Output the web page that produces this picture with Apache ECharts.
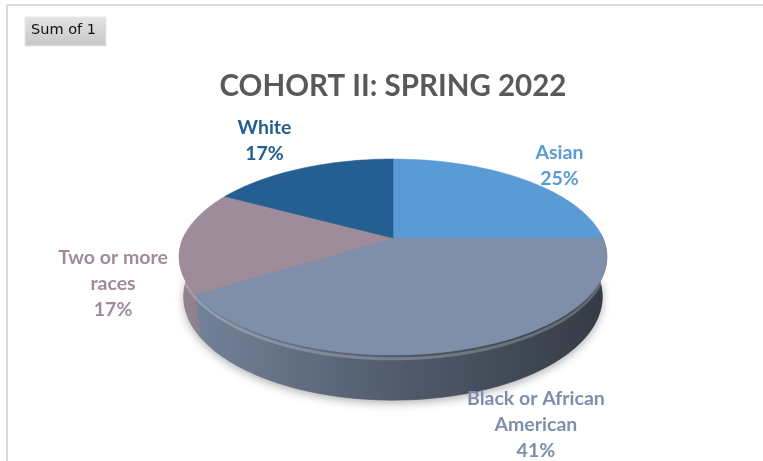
<!DOCTYPE html>
<html>
<head>
<meta charset="utf-8">
<script src="https://cdn.jsdelivr.net/npm/echarts@6/dist/echarts.min.js"></script>
<style>
  html, body { margin: 0; padding: 0; background: #ffffff; }
  #chart { width: 763px; height: 461px; }
</style>
</head>
<body>
<div id="chart"></div>
<script>
// Cohort II ethnicity breakdown (percent of cohort)
const categories = ['Asian', 'Black or African American', 'Two or more races', 'White'];
const labelNames = ['Asian', 'Black or African\nAmerican', 'Two or more\nraces', 'White'];
const shares = [25, 41, 17, 17];

// Slice palette
const sliceColors = ['#5B9BD5', '#7F8FA9', '#9E8C9A', '#255E91'];
const labelColors = ['#5B9BD5', '#7F8FA9', '#9E8C9A', '#255E91'];

// Perspective camera for the tilted 3-D disc
const CX = 393, CY = 238;          // projected disc centre
const TILT = 26.7 * Math.PI / 180; // viewing elevation
const SIN = Math.sin(TILT), COS = Math.cos(TILT);
const DIST = 4.61;                 // camera distance in disc radii
const FOCAL = 967;                 // focal length in px
const THICK = 0.2125;              // disc thickness in radii

// Label nudges away from the rim anchor (px)
const labelNudge = [[36, -14], [71, 76], [-69, 43], [-37, -28]];

const total = shares.reduce((a, b) => a + b, 0);
const starts = [];
let acc = 0;
shares.forEach(v => { starts.push(acc); acc += v; });

function project(phi, r, yu) {
  const x = r * Math.sin(phi), z = r * Math.cos(phi);
  const yv = yu * COS + z * SIN;
  const zv = DIST + z * COS - yu * SIN;
  return [CX + FOCAL * x / zv, CY - FOCAL * yv / zv];
}

function shade(hex, f) {
  const n = parseInt(hex.slice(1), 16);
  const r = Math.min(255, Math.round(((n >> 16) & 255) * f));
  const g = Math.min(255, Math.round(((n >> 8) & 255) * f));
  const b = Math.min(255, Math.round((n & 255) * f));
  return 'rgb(' + r + ',' + g + ',' + b + ')';
}

function arc(a0, a1, yu, steps) {
  const pts = [];
  for (let k = 0; k <= steps; k++) {
    pts.push(project(a0 + (a1 - a0) * k / steps, 1, yu));
  }
  return pts;
}

function renderItem(params, api) {
  const i = params.dataIndex;
  const v = api.value(0);
  const a0 = starts[i] / total * Math.PI * 2;
  const a1 = (starts[i] + v) / total * Math.PI * 2;
  const col = sliceColors[i];
  const children = [];

  // soft ground shadow under the whole disc
  if (i === 0) {
    children.push({
      type: 'polygon',
      shape: { points: arc(0, Math.PI * 2, -THICK, 180) },
      style: { fill: '#8a8a8a', shadowBlur: 9, shadowOffsetY: 3, shadowColor: 'rgba(0,0,0,0.3)' },
      z2: 1
    });
  }

  // front wall
  const lo = Math.max(a0, Math.PI / 2 - 0.05);
  const hi = Math.min(a1, Math.PI * 1.5 + 0.05);
  if (lo < hi) {
    const steps = Math.max(4, Math.ceil((hi - lo) / 0.02));
    const top = arc(lo, hi, 0, steps);
    const bottom = arc(hi, lo, -THICK, steps);
    const grad = {
      type: 'linear', x: 180, y: 0, x2: 606, y2: 0, global: true,
      colorStops: [
        { offset: 0, color: shade(col, 0.93) },
        { offset: 0.5, color: shade(col, 0.64) },
        { offset: 1, color: shade(col, 0.41) }
      ]
    };
    children.push({
      type: 'polygon',
      shape: { points: top.concat(bottom) },
      style: { fill: grad, stroke: grad, lineWidth: 0.6 },
      z2: 10
    });
    // rounded rim highlight along the top of the wall
    children.push({
      type: 'polyline',
      shape: { points: arc(lo, hi, -0.018, steps) },
      style: { stroke: 'rgba(255,255,255,0.22)', lineWidth: 3, fill: null },
      z2: 12
    });
  }

  // top face
  const facePts = [project(0, 0, 0)].concat(arc(a0, a1, 0, Math.max(8, Math.ceil((a1 - a0) / 0.02))));
  children.push({
    type: 'polygon',
    shape: { points: facePts },
    style: { fill: col, stroke: col, lineWidth: 0.6 },
    z2: 20
  });

  // data label
  const mid = (a0 + a1) / 2;
  const anchor = project(mid, 1, 0);
  children.push({
    type: 'text',
    style: {
      text: labelNames[i] + '\n' + v + '%',
      x: anchor[0] + labelNudge[i][0],
      y: anchor[1] + labelNudge[i][1],
      align: 'center',
      verticalAlign: 'middle',
      fill: labelColors[i],
      font: 'bold 19.5px Lato',
      lineHeight: 26
    },
    z2: 30
  });

  return { type: 'group', children: children };
}

const chart = echarts.init(document.getElementById('chart'), null, { renderer: 'canvas' });
chart.setOption({
  backgroundColor: '#ffffff',
  animation: false,
  graphic: [
    { type: 'line', shape: { x1: 7, y1: 5, x2: 763, y2: 5 }, style: { stroke: '#d9d9d9', lineWidth: 2 } },
    { type: 'line', shape: { x1: 7, y1: 5, x2: 7, y2: 461 }, style: { stroke: '#d9d9d9', lineWidth: 2 } },
    {
      type: 'rect',
      shape: { x: 25, y: 17, width: 81, height: 29 },
      style: {
        fill: { type: 'linear', x: 0, y: 0, x2: 0, y2: 1,
          colorStops: [{ offset: 0, color: '#e4e4e4' }, { offset: 1, color: '#c6c6c6' }] },
        stroke: '#e8e8e8', lineWidth: 1
      }
    },
    {
      type: 'text',
      left: 31, top: 23,
      style: { text: 'Sum of 1', font: '14.5px "DejaVu Sans"', fill: '#111111' }
    },
    {
      type: 'text',
      x: 393, y: 86,
      style: {
        text: 'COHORT II: SPRING 2022',
        font: 'bold 29.5px Lato',
        fill: '#595959',
        align: 'center',
        verticalAlign: 'middle'
      }
    }
  ],
  series: [{
    type: 'custom',
    name: 'Sum of 1',
    coordinateSystem: 'none',
    renderItem: renderItem,
    data: shares.map((v, i) => ({ name: categories[i], value: [v] }))
  }]
});
</script>
</body>
</html>
